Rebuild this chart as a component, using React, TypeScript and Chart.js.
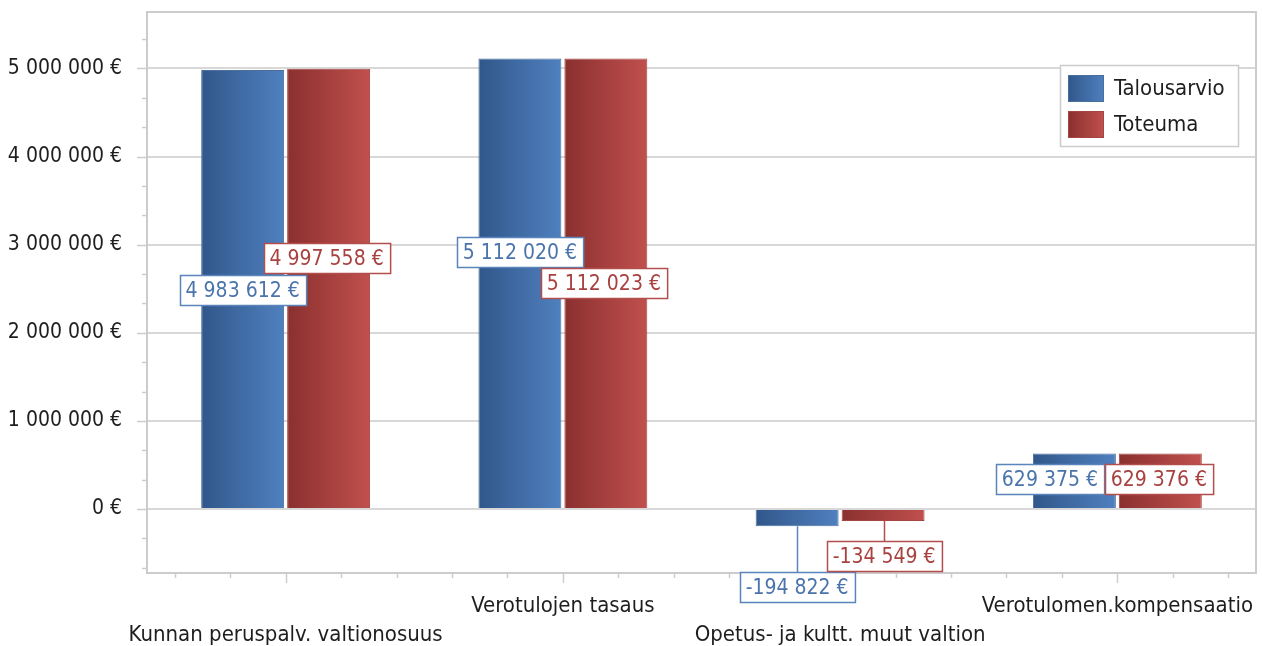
import React, { useEffect, useRef } from 'react';
import { Chart, registerables } from 'chart.js';

Chart.register(...registerables);

const categories = [
  'Kunnan peruspalv. valtionosuus',
  'Verotulojen tasaus',
  'Opetus- ja kultt. muut valtion',
  'Verotulomen.kompensaatio',
];
const seriesNames = ['Talousarvio', 'Toteuma'];
const talousarvio = [4983612, 5112020, -194822, 629375];
const toteuma = [4997558, 5112023, -134549, 629376];

const yMin = -726000;
const yMax = 5641000;
const yStep = 1000000;
const yTickValues = [0, 1000000, 2000000, 3000000, 4000000, 5000000];
const yMinorDiv = 3;

// label layout adjustments (anti-overlap), [dx, dy] relative to bar middle
const labelShiftA = [[0, 1], [0, -31], [0, 69], [-24.5, -1.5]];
const labelShiftB = [[-2, -30], [-2, 0], [1, 41], [-1.5, -1.5]];
const labelRows = [1, 0, 1, 0];

const FONT = '"DejaVu Sans Condensed", "DejaVu Sans", sans-serif';
const FS = 21;
const FS_TEXT = 22;
const TEXT = '#1e1e1e';
const FRAME = '#cccccc';

const palette = [
  { dark: '#31578a', light: '#4f80bf', border: '#4a6f9f', label: '#4a74ab', box: '#5a84ba' },
  { dark: '#8a302f', light: '#c0504d', border: '#a54542', label: '#a8413f', box: '#b24e4b' },
];

function fmt(v: number): string {
  const s = Math.abs(v).toString().replace(/\B(?=(\d{3})+(?!\d))/g, ' ');
  return (v < 0 ? '-' : '') + s + ' €';
}

const gradientPlugin = {
  id: 'barGradient',
  beforeDatasetsDraw(chart: any) {
    const ctx = chart.ctx;
    chart.data.datasets.forEach((ds: any, di: number) => {
      const meta = chart.getDatasetMeta(di);
      meta.data.forEach((bar: any) => {
        const x0 = bar.x - bar.width / 2;
        const x1 = bar.x + bar.width / 2;
        const g = ctx.createLinearGradient(x0, 0, x1, 0);
        g.addColorStop(0, palette[di].dark);
        g.addColorStop(1, palette[di].light);
        bar.options = { ...bar.options, backgroundColor: g };
      });
    });
  },
};

const framePlugin = {
  id: 'frameTicks',
  beforeDatasetsDraw(chart: any) {
    const ctx = chart.ctx;
    const a = chart.chartArea;
    const y = chart.scales.y;
    ctx.save();
    ctx.strokeStyle = FRAME;
    ctx.lineWidth = 2;
    ctx.strokeRect(a.left, a.top, a.right - a.left, a.bottom - a.top);
    const minor = yStep / yMinorDiv;
    const start = Math.ceil(yMin / minor);
    const end = Math.floor(yMax / minor);
    ctx.lineWidth = 1.5;
    for (let k = start; k <= end; k++) {
      const py = Math.round(y.getPixelForValue(k * minor)) + 0.5;
      const major = k % yMinorDiv === 0;
      ctx.beginPath();
      ctx.moveTo(a.left - (major ? 10 : 5), py);
      ctx.lineTo(a.left, py);
      ctx.stroke();
    }
    const catW = (a.right - a.left) / categories.length;
    for (let k = 0; k < categories.length * 5; k++) {
      const px = Math.round(a.left + (k + 0.5) * catW / 5) + 0.5;
      const major = k % 5 === 2;
      ctx.beginPath();
      ctx.moveTo(px, a.bottom);
      ctx.lineTo(px, a.bottom + (major ? 10 : 5));
      ctx.stroke();
    }
    ctx.restore();
  },
  afterDraw(chart: any) {
    const ctx = chart.ctx;
    const a = chart.chartArea;
    const xs = chart.scales.x;
    ctx.save();
    ctx.font = `${FS_TEXT}px ${FONT}`;
    ctx.fillStyle = TEXT;
    ctx.textAlign = 'center';
    ctx.textBaseline = 'middle';
    categories.forEach((c, i) => {
      const px = xs.getPixelForValue(i);
      const py = a.bottom + (labelRows[i] ? 62 : 33);
      ctx.fillText(c, px, py);
    });
    ctx.restore();
  },
};

const labelPlugin = {
  id: 'dataLabels',
  afterDatasetsDraw(chart: any) {
    const ctx = chart.ctx;
    ctx.save();
    ctx.font = `${FS}px ${FONT}`;
    ctx.textAlign = 'center';
    ctx.textBaseline = 'middle';
    const shifts = [labelShiftA, labelShiftB];
    chart.data.datasets.forEach((ds: any, di: number) => {
      const meta = chart.getDatasetMeta(di);
      meta.data.forEach((bar: any, i: number) => {
        const v = ds.data[i];
        const text = fmt(v);
        const tw = ctx.measureText(text).width;
        const w = tw + 12;
        const h = 30;
        const cx = bar.x + shifts[di][i][0];
        const cy = (bar.y + bar.base) / 2 + shifts[di][i][1];
        const bx = Math.round(cx - w / 2) + 0.5;
        const by = Math.round(cy - h / 2) + 0.5;
        const barBottom = Math.max(bar.y, bar.base);
        if (by > barBottom + 2) {
          ctx.strokeStyle = palette[di].box;
          ctx.lineWidth = 1.5;
          ctx.beginPath();
          ctx.moveTo(Math.round(cx) + 0.5, barBottom);
          ctx.lineTo(Math.round(cx) + 0.5, by);
          ctx.stroke();
        }
        ctx.fillStyle = '#ffffff';
        ctx.fillRect(bx, by, w, h);
        ctx.strokeStyle = palette[di].box;
        ctx.lineWidth = 1.5;
        ctx.strokeRect(bx, by, w, h);
        ctx.fillStyle = palette[di].label;
        ctx.fillText(text, cx, by + h / 2 + 1);
      });
    });
    ctx.restore();
  },
};

const legendPlugin = {
  id: 'boxLegend',
  afterDraw(chart: any) {
    const ctx = chart.ctx;
    const a = chart.chartArea;
    const right = a.right - 18;
    const left = right - 178;
    const top = a.top + 53;
    ctx.save();
    ctx.fillStyle = '#ffffff';
    ctx.fillRect(left, top, 178, 81);
    ctx.strokeStyle = FRAME;
    ctx.lineWidth = 1.5;
    ctx.strokeRect(left + 0.5, top + 0.5, 178, 81);
    ctx.font = `${FS_TEXT}px ${FONT}`;
    ctx.textBaseline = 'middle';
    ctx.textAlign = 'left';
    seriesNames.forEach((name, i) => {
      const sx = left + 8;
      const sy = top + 10 + i * 36;
      const g = ctx.createLinearGradient(sx, 0, sx + 36, 0);
      g.addColorStop(0, palette[i].dark);
      g.addColorStop(1, palette[i].light);
      ctx.fillStyle = g;
      ctx.fillRect(sx, sy, 36, 27);
      ctx.strokeStyle = palette[i].border;
      ctx.lineWidth = 1;
      ctx.strokeRect(sx + 0.5, sy + 0.5, 35, 26);
      ctx.fillStyle = TEXT;
      ctx.fillText(name, sx + 46, sy + 14);
    });
    ctx.restore();
  },
};

export default function App() {
  const ref = useRef<HTMLCanvasElement | null>(null);
  useEffect(() => {
    document.body.style.margin = '0';
    if (!ref.current) return;
    Chart.defaults.font.family = FONT;
    const chart = new Chart(ref.current, {
      type: 'bar',
      data: {
        labels: categories,
        datasets: [
          {
            label: seriesNames[0],
            data: talousarvio,
            backgroundColor: (c: any) => palette[c.datasetIndex].light,
            borderColor: palette[0].border,
            borderWidth: 1,
            categoryPercentage: 0.62,
            barPercentage: 0.965,
          },
          {
            label: seriesNames[1],
            data: toteuma,
            backgroundColor: (c: any) => palette[c.datasetIndex].light,
            borderColor: palette[1].border,
            borderWidth: 1,
            categoryPercentage: 0.62,
            barPercentage: 0.965,
          },
        ],
      },
      options: {
        animation: false,
        responsive: true,
        maintainAspectRatio: false,
        layout: { padding: { left: 0, top: 12, right: 6, bottom: 0 } },
        plugins: {
          legend: { display: false },
          tooltip: { enabled: false },
        },
        scales: {
          x: {
            ticks: { display: false },
            grid: { display: false, drawTicks: false },
            border: { display: false },
            afterFit: (s: any) => {
              s.height = 73;
            },
          },
          y: {
            min: yMin,
            max: yMax,
            afterBuildTicks: (s: any) => {
              s.ticks = yTickValues.map((v) => ({ value: v }));
            },
            ticks: {
              autoSkip: false,
              padding: 25,
              color: TEXT,
              font: { size: FS, family: FONT },
              callback: (v: any) => fmt(Number(v)),
            },
            grid: {
              drawTicks: false,
              lineWidth: 2,
              color: '#d8d8d8',
            },
            border: { display: false },
            afterFit: (s: any) => {
              s.width = 147;
              s.paddingTop = 0;
              s.paddingBottom = 0;
            },
          },
        },
      },
      plugins: [gradientPlugin, framePlugin, labelPlugin, legendPlugin],
    });
    return () => chart.destroy();
  }, []);
  return (
    <div style={{ position: 'fixed', left: 0, top: 0, width: 1262, height: 646 }}>
      <canvas ref={ref} />
    </div>
  );
}
